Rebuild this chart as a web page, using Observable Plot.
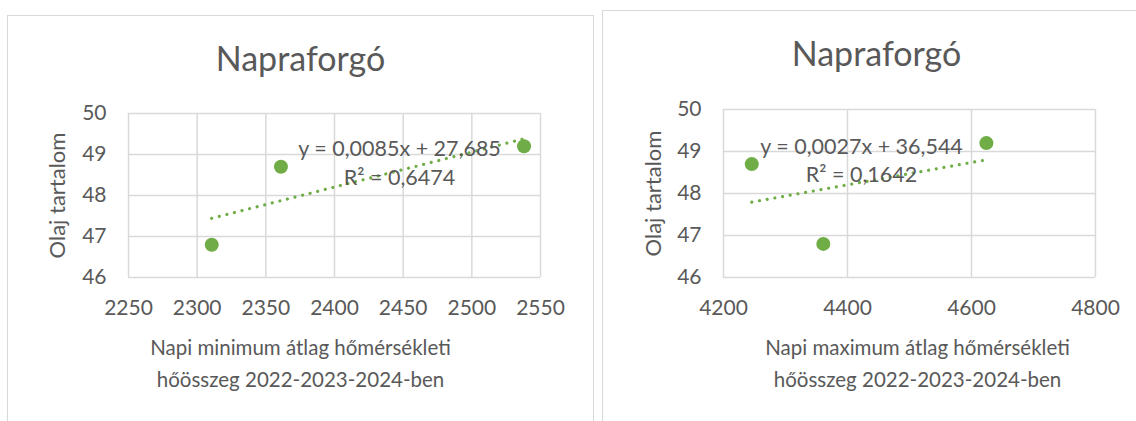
<!DOCTYPE html>
<html><head><meta charset="utf-8">
<script src="https://cdn.jsdelivr.net/npm/d3@7"></script>
<script src="https://cdn.jsdelivr.net/npm/@observablehq/plot@0.6"></script>
<style>
body{margin:0;background:#fff;width:1136px;height:421px;overflow:hidden;position:relative;font-family:Lato,sans-serif}
.box{position:absolute;border:1px solid #d9d9d9;box-sizing:border-box}
.c{position:absolute;top:0}
</style></head><body>
<div class="box" style="left:7px;top:15px;width:587px;height:430px"></div>
<div class="box" style="left:602px;top:10px;width:600px;height:430px"></div>
<div id="c1" class="c" style="left:0"></div>
<div id="c2" class="c" style="left:598px"></div>
<script>
const title = "Napraforgó";
const yLabel = "Olaj tartalom";
const oil = [46.8, 48.7, 49.2];
const minSum = [2310.6, 2361, 2538];
const maxSum = [4361, 4245.6, 4624];
const xTicksMin = [2250, 2300, 2350, 2400, 2450, 2500, 2550];
const xTicksMax = [4200, 4400, 4600, 4800];
const yTicks = [46, 47, 48, 49, 50];
const eqMin = ["y = 0,0085x + 27,685", "R² = 0,6474"];
const eqMax = ["y = 0,0027x + 36,544", "R² = 0,1642"];
const xLabelMin = ["Napi minimum átlag hőmérsékleti", "hőösszeg 2022-2023-2024-ben"];
const xLabelMax = ["Napi maximum átlag hőmérsékleti", "hőösszeg 2022-2023-2024-ben"];

const green = "#70ad47", grid = "#d9d9d9", ink = "#595959";

function chart(xs, xTicks, eq, xLab, o) {
  const data = xs.map((x, i) => ({x, y: oil[i]}));
  return Plot.plot({
    width: o.width, height: 421,
    marginLeft: o.ml, marginRight: o.mr, marginTop: o.mt, marginBottom: o.mb,
    x: {domain: [xTicks[0], xTicks[xTicks.length - 1]]},
    y: {domain: [yTicks[0], yTicks[yTicks.length - 1]]},
    style: {fontFamily: "Lato, sans-serif", color: ink, background: "transparent", overflow: "visible"},
    marks: [
      Plot.gridX(xTicks, {stroke: grid, strokeOpacity: 1, strokeWidth: 1.5}),
      Plot.gridY(yTicks, {stroke: grid, strokeOpacity: 1, strokeWidth: 1.5}),
      Plot.axisX(xTicks, {tickSize: 0, tickPadding: 23, fontSize: 21, fill: ink, label: null, tickFormat: d => String(d)}),
      Plot.axisY(yTicks, {tickSize: 0, tickPadding: 22, fontSize: 21, fill: ink, label: null, tickFormat: d => String(d)}),
      Plot.linearRegressionY(data, {x: "x", y: "y", ci: 0, stroke: green, strokeWidth: 3.2, strokeDasharray: "0.01 7.8", strokeLinecap: "round"}),
      Plot.dot(data, {x: "x", y: "y", r: 7, fill: green}),
      Plot.text([eq[0]], {frameAnchor: "top-left", dx: o.eqdx, dy: o.eqdy1, fontSize: 21.5, fill: ink, textAnchor: "middle", lineAnchor: "middle"}),
      Plot.text([eq[1]], {frameAnchor: "top-left", dx: o.eqdx, dy: o.eqdy2, fontSize: 21.5, fill: ink, textAnchor: "middle", lineAnchor: "middle"}),
      Plot.text([title], {frameAnchor: "top", dx: o.tdx, dy: o.tdy, fontSize: 34, fill: ink, textAnchor: "middle", lineAnchor: "bottom"}),
      Plot.text([yLabel], {frameAnchor: "left", dx: o.ydx, rotate: -90, fontSize: 22, fill: ink, textAnchor: "middle", lineAnchor: "middle"}),
      Plot.text([xLab[0]], {frameAnchor: "bottom", dx: o.xdx, dy: 71, fontSize: 20.5, fill: ink, textAnchor: "middle", lineAnchor: "middle"}),
      Plot.text([xLab[1]], {frameAnchor: "bottom", dx: o.xdx, dy: 103, fontSize: 20.5, fill: ink, textAnchor: "middle", lineAnchor: "middle"})
    ]
  });
}

document.getElementById("c1").append(chart(minSum, xTicksMin, eqMin, xLabelMin,
  {width: 598, ml: 128, mr: 58, mt: 113, mb: 144, eqdx: 271, eqdy1: 36, eqdy2: 65, tdx: -34, tdy: -43, ydx: -71, xdx: -34}));
document.getElementById("c2").append(chart(maxSum, xTicksMax, eqMax, xLabelMax,
  {width: 538, ml: 125, mr: 41, mt: 109, mb: 144, eqdx: 138, eqdy1: 38, eqdy2: 66, tdx: -33, tdy: -44, ydx: -70, xdx: 8}));
</script>
</body></html>
